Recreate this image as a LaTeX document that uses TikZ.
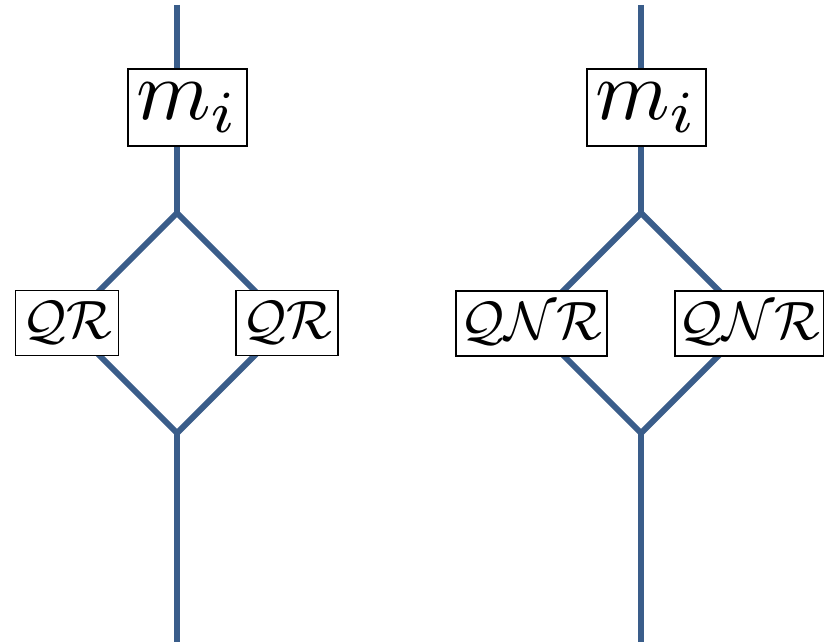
\documentclass[tikz,border=0pt]{standalone}
\usepackage{graphicx}
\usepackage{tikz}
\definecolor{wireblue}{RGB}{58,93,138}
\newcommand{\bigmath}[2]{\scalebox{#1}{$#2$}}
\tikzset{
	wire/.style={draw=wireblue, line width=6pt, line join=miter},
	mbox/.style={draw=black, line width=1.6pt, fill=white, minimum width=119pt, minimum height=77pt, inner sep=0pt},
	qbox/.style={draw=black, line width=1.6pt, fill=white, minimum height=65pt, inner sep=0pt}
}

\begin{document}
\begin{tikzpicture}[x=1pt, y=-1pt]
		%%%%% START %%%%%
		\useasboundingbox (0, 0) rectangle (824, 642);
		
		% left: QR
		\coordinate (topL) at (177, 5);
		\coordinate (splitL) at (177, 213);
		\coordinate (westL) at (67, 323);
		\coordinate (eastL) at (287, 323);
		\coordinate (joinL) at (177, 433);
		\coordinate (botL) at (177, 642);
		\draw[wire] (topL) -- (splitL);
		\draw[wire] (splitL) -- (westL) -- (joinL) -- (eastL) -- cycle;
		\draw[wire] (joinL) -- (botL);
		\node[mbox] (mL) at (187.5, 107.5) {\bigmath{8.5}{m_i}};
		\node[qbox, minimum width=103pt] (qrL) at (westL) {\bigmath{5.4}{\mathcal{QR}}};
		\node[qbox, minimum width=102pt] (qrR) at (eastL) {\bigmath{5.4}{\mathcal{QR}}};
		
		% right: QNR
		\coordinate (topR) at (641, 5);
		\coordinate (splitR) at (641, 213);
		\coordinate (westR) at (531, 323);
		\coordinate (eastR) at (751, 323);
		\coordinate (joinR) at (641, 433);
		\coordinate (botR) at (641, 642);
		\draw[wire] (topR) -- (splitR);
		\draw[wire] (splitR) -- (westR) -- (joinR) -- (eastR) -- cycle;
		\draw[wire] (joinR) -- (botR);
		\node[mbox] (mR) at (646.5, 107.5) {\bigmath{8.5}{m_i}};
		\node[qbox, minimum width=151pt] (qnrL) at (531.5, 323.5) {\bigmath{5.4}{\mathcal{QNR}}};
		\node[qbox, minimum width=149pt] (qnrR) at (749.5, 323.5) {\bigmath{5.4}{\mathcal{QNR}}};
		%%%%% END %%%%%
	\end{tikzpicture}
\end{document}
